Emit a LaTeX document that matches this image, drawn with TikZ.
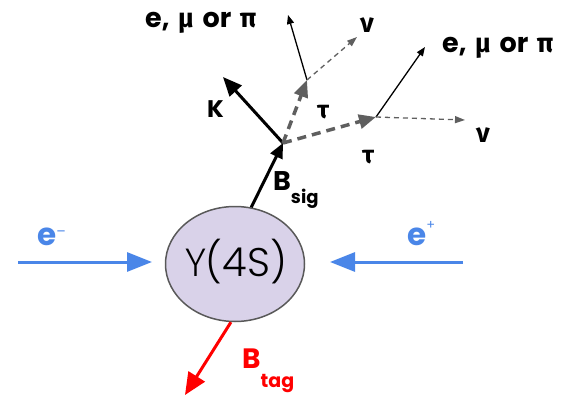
\documentclass[tikz,border=0pt]{standalone}
\usepackage{fontspec}
\setmainfont{Poppins}
\newfontfamily\grk{Fira Sans}
\newfontfamily\ylight{Poppins}[UprightFont=* Light]
\newfontfamily\grklight{Fira Sans}[UprightFont=* Light]
\usetikzlibrary{arrows.meta,shapes.geometric}
\definecolor{eblue}{HTML}{4A86E8}
\definecolor{ufill}{HTML}{D9D2E9}
\definecolor{ugrey}{HTML}{595959}
\definecolor{dgrey}{HTML}{5F5F5F}
\definecolor{bred}{HTML}{FF0000}
\newcommand{\fs}[1]{\fontsize{#1}{#1}\selectfont}
\newcommand{\lepname}{e,\hspace{0.32em}{\grk μ}\hspace{0.32em}or\hspace{0.32em}{\grk π}}
\begin{document}
\begin{tikzpicture}[x=1pt,y=-1pt,
  beam/.style={eblue, line width=3pt, -{Triangle[length=25pt,width=19pt]}},
  heavy/.style={black, line width=3pt, -{Triangle[length=19pt,width=16pt]}},
  tagarrow/.style={bred, line width=3pt, -{Triangle[length=22pt,width=19pt]}},
  taudash/.style={dgrey, line width=3.5pt, dash pattern=on 9pt off 6pt, -{Triangle[length=17pt,width=14pt]}},
  lepton/.style={black, line width=1.3pt, -{Triangle[length=9pt,width=7pt]}},
  nudash/.style={dgrey, line width=1.3pt, dash pattern=on 5pt off 4pt, -{Triangle[length=10pt,width=7pt]}},
  lab/.style={inner sep=0pt, anchor=base west, font=\bfseries},
]
\useasboundingbox (0,0) rectangle (574,399);
% resonance
\node[ellipse, draw=ugrey, fill=ufill, line width=1.5pt, minimum width=139pt, minimum height=115pt, inner sep=0pt] (Y) at (235,264) {};
\node[inner sep=0pt] (Ytext) at (236,262) {\fs{40}{\grklight Υ}\ylight(4S)};
% coordinates
\coordinate (eml) at (18,262);
\coordinate (emtip) at (152,262);
\coordinate (epl) at (463,262);
\coordinate (eptip) at (330,262);
\coordinate (bv) at (283,143);
\coordinate (kend) at (223,77);
\coordinate (t1) at (307,80);
\coordinate (t2) at (376,117);
\coordinate (l1) at (288,15);
\coordinate (n1) at (357,37);
\coordinate (l2) at (425,47);
\coordinate (n2) at (465,120);
\coordinate (btag) at (185,395);
% beams
\draw[beam] (eml) -- (emtip);
\draw[beam] (epl) -- (eptip);
% B mesons
\draw[heavy, -{Triangle[length=15pt,width=13pt]}] (Y.74) -- (bv);
\draw[tagarrow] (Y.266) -- (btag);
\draw[heavy] (bv) -- (kend);
% taus
\draw[taudash] (bv) -- (t1);
\draw[taudash] (bv) -- (t2);
% tau decays
\draw[lepton] (t1) -- (l1);
\draw[nudash] (t1) -- (n1);
\draw[lepton] (t2) -- (l2);
\draw[nudash] (t2) -- (n2);
% labels
\node[lab, text=eblue] (em) at (37,245) {\fs{31}e\raisebox{9pt}{\fs{14}\mdseries –}};
\node[lab, text=eblue] (ep) at (407,245) {\fs{31}e\raisebox{16pt}{\fs{13}\mdseries +}};
\node[lab] (bsig) at (273,190) {\fs{27}B\raisebox{-13pt}{\fs{18}sig}};
\node[lab, text=bred] (btaglab) at (242,368) {\fs{28}B\raisebox{-19pt}{\fs{19}tag}};
\node[lab] (klab) at (207,117) {\fs{24}K};
\node[lab] (tau1) at (317,118) {\fs{25}\grk τ};
\node[lab] (tau2) at (362,163) {\fs{25}\grk τ};
\node[lab] (nu1) at (360,32) {\fs{27}\grk ν};
\node[lab] (nu2) at (476,142) {\fs{27}\grk ν};
\node[lab] (lep1) at (145,27) {\fs{27}\lepname};
\node[lab] (lep2) at (442,52) {\fs{27}\lepname};
\end{tikzpicture}
\end{document}
